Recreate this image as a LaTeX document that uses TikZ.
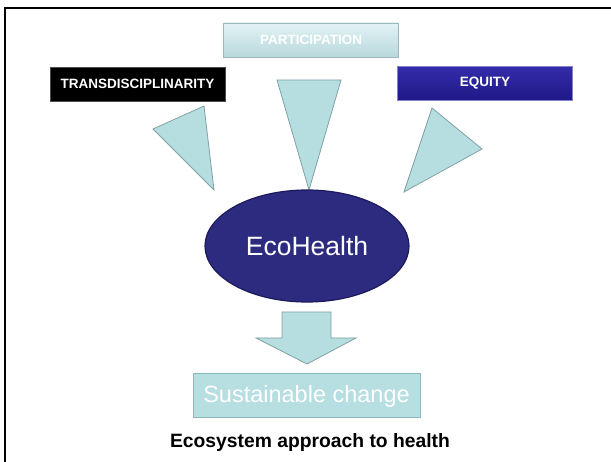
\documentclass[tikz,border=0pt]{standalone}
\usepackage{fontspec}
\setmainfont{Liberation Sans}
\usetikzlibrary{shapes.geometric}
\definecolor{tri}{RGB}{182,221,223}
\definecolor{triedge}{RGB}{128,162,166}
\definecolor{partop}{RGB}{226,243,246}
\definecolor{parbot}{RGB}{184,216,220}
\definecolor{eqtop}{RGB}{52,44,170}
\definecolor{eqbot}{RGB}{30,24,135}
\definecolor{ell}{RGB}{45,43,128}
\definecolor{elledge}{RGB}{28,26,90}
\definecolor{sus}{RGB}{183,222,224}
\definecolor{susedge}{RGB}{140,184,188}
\tikzset{
  labelbox/.style={minimum width=175pt, minimum height=34pt, inner sep=0pt,
    text=white, font=\fontsize{13.5}{15}\selectfont\bfseries},
  wedge/.style={fill=tri, draw=triedge, line width=0.8pt, line join=miter},
}
\begin{document}
\begin{tikzpicture}[x=1pt,y=-1pt]
\useasboundingbox (0,0) rectangle (611,462);
\fill[white] (0,0) rectangle (611,462);
% frame
\draw[line width=2pt] (5,470) -- (5,8) -- (620,8);
% label boxes
\node[labelbox, top color=partop, bottom color=parbot, draw=parbot!85!black, line width=0.4pt] (par) at (311,40) {PARTICIPATION};
\node[labelbox, fill=black, draw=black!70] (trans) at (137.5,84) {TRANSDISCIPLINARITY};
\node[labelbox, top color=eqtop, bottom color=eqbot, draw=eqtop!60!white, line width=0.5pt] (eq) at (485,83.5) {EQUITY};
% wedges
\draw[wedge] (153,129) -- (204,106) -- (214,190) -- cycle;
\draw[wedge] (277,80) -- (341,80) -- (309,190) -- cycle;
\draw[wedge] (432,108) -- (482,149) -- (404,192) -- cycle;
% central ellipse
\node[ellipse, minimum width=204pt, minimum height=112pt, inner sep=0pt,
  fill=ell, draw=elledge, line width=1.2pt, text=white,
  font=\fontsize{26.5}{30}\selectfont] (eco) at (307,246) {EcoHealth};
% down arrow
\draw[wedge] (282,312) -- (331,312) -- (331,338) -- (356,338) -- (307,364) -- (256,338) -- (282,338) -- cycle;
% sustainable change
\node[fill=sus, draw=susedge, line width=1pt, minimum width=227pt, minimum height=44pt, inner sep=0pt,
  text=white, font=\fontsize{23.5}{26}\selectfont] (sus) at (306.5,396) {Sustainable change};
% caption
\node[font=\fontsize{19.3}{22}\selectfont\bfseries, text=black] (cap) at (310,443) {Ecosystem approach to health};
\end{tikzpicture}
\end{document}
